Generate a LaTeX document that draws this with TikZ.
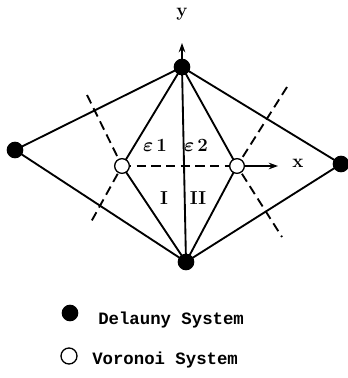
\documentclass[tikz,border=0pt]{standalone}
\usepackage{amsmath}
\usepackage{fontspec}
\newfontfamily\legfont{Liberation Mono}
\usetikzlibrary{arrows.meta}
\begin{document}
\begin{tikzpicture}[x=0.75pt,y=-0.75pt,
  delaunay/.style={circle,fill=black,inner sep=0pt,minimum size=12.5pt},
  voronoi/.style={circle,draw=black,fill=white,line width=1pt,inner sep=0pt,minimum size=11pt},
  edge/.style={line width=1.4pt},
  vedge/.style={line width=1.4pt,dash pattern=on 7pt off 4pt},
  axis/.style={line width=1pt,-{Stealth[length=7pt,width=5pt]}},
  lab/.style={font=\bfseries\fontsize{14}{16}\selectfont,inner sep=0pt},
  leg/.style={font=\legfont\bfseries\fontsize{13}{15}\selectfont,anchor=west,inner sep=0pt}]
\useasboundingbox (0,0) rectangle (348,378);
% Delaunay points
\coordinate (Tc) at (182,67);
\coordinate (Bc) at (186,262);
\coordinate (Lc) at (15,150);
\coordinate (Rc) at (341,164);
\coordinate (VLc) at (122,166);
\coordinate (VRc) at (237,166);
% Voronoi edge ends
\coordinate (vl1) at (87,95);
\coordinate (vl2) at (91,222);
\coordinate (vr1) at (287,87);
\coordinate (vr2) at (282,237);
\coordinate (yend) at (182,43);
\coordinate (xend) at (278,166);
% Delaunay edges
\draw[edge] (Lc) -- (Tc) -- (Rc) -- (Bc) -- (Lc);
\draw[edge] (Tc) -- (Bc);
\draw[edge] (Tc) -- (VLc) -- (Bc);
\draw[edge] (Tc) -- (VRc) -- (Bc);
% Voronoi edges
\draw[vedge] (vl1) -- (VLc) -- (vl2);
\draw[vedge] (vr1) -- (VRc) -- (vr2);
\draw[vedge] (VLc) -- (VRc);
% axes
\draw[axis] (Tc) -- (yend);
\draw[axis] (VRc) -- (xend);
\node[lab] (ylab) at (182,14) {y};
\node[lab] (xlab) at (298,163) {x};
% nodes
\node[delaunay] (T) at (Tc) {};
\node[delaunay] (B) at (Bc) {};
\node[delaunay] (L) at (Lc) {};
\node[delaunay] (R) at (Rc) {};
\node[voronoi] (VL) at (VLc) {};
\node[voronoi] (VR) at (VRc) {};
% labels
\node[lab] (e1) at (155,145) {$\boldsymbol{\varepsilon}$\,1};
\node[lab] (e2) at (196,145) {$\boldsymbol{\varepsilon}$\,2};
\node[lab] (r1) at (164,198) {I};
\node[lab] (r2) at (198,198) {II};
% legend
\node[delaunay] (ld) at (70,313) {};
\node[leg] (ldt) at (98,320) {Delauny System};
\node[voronoi,minimum size=12pt] (lv) at (69,356) {};
\node[leg] (lvt) at (92,360) {Voronoi System};
\end{tikzpicture}
\end{document}
